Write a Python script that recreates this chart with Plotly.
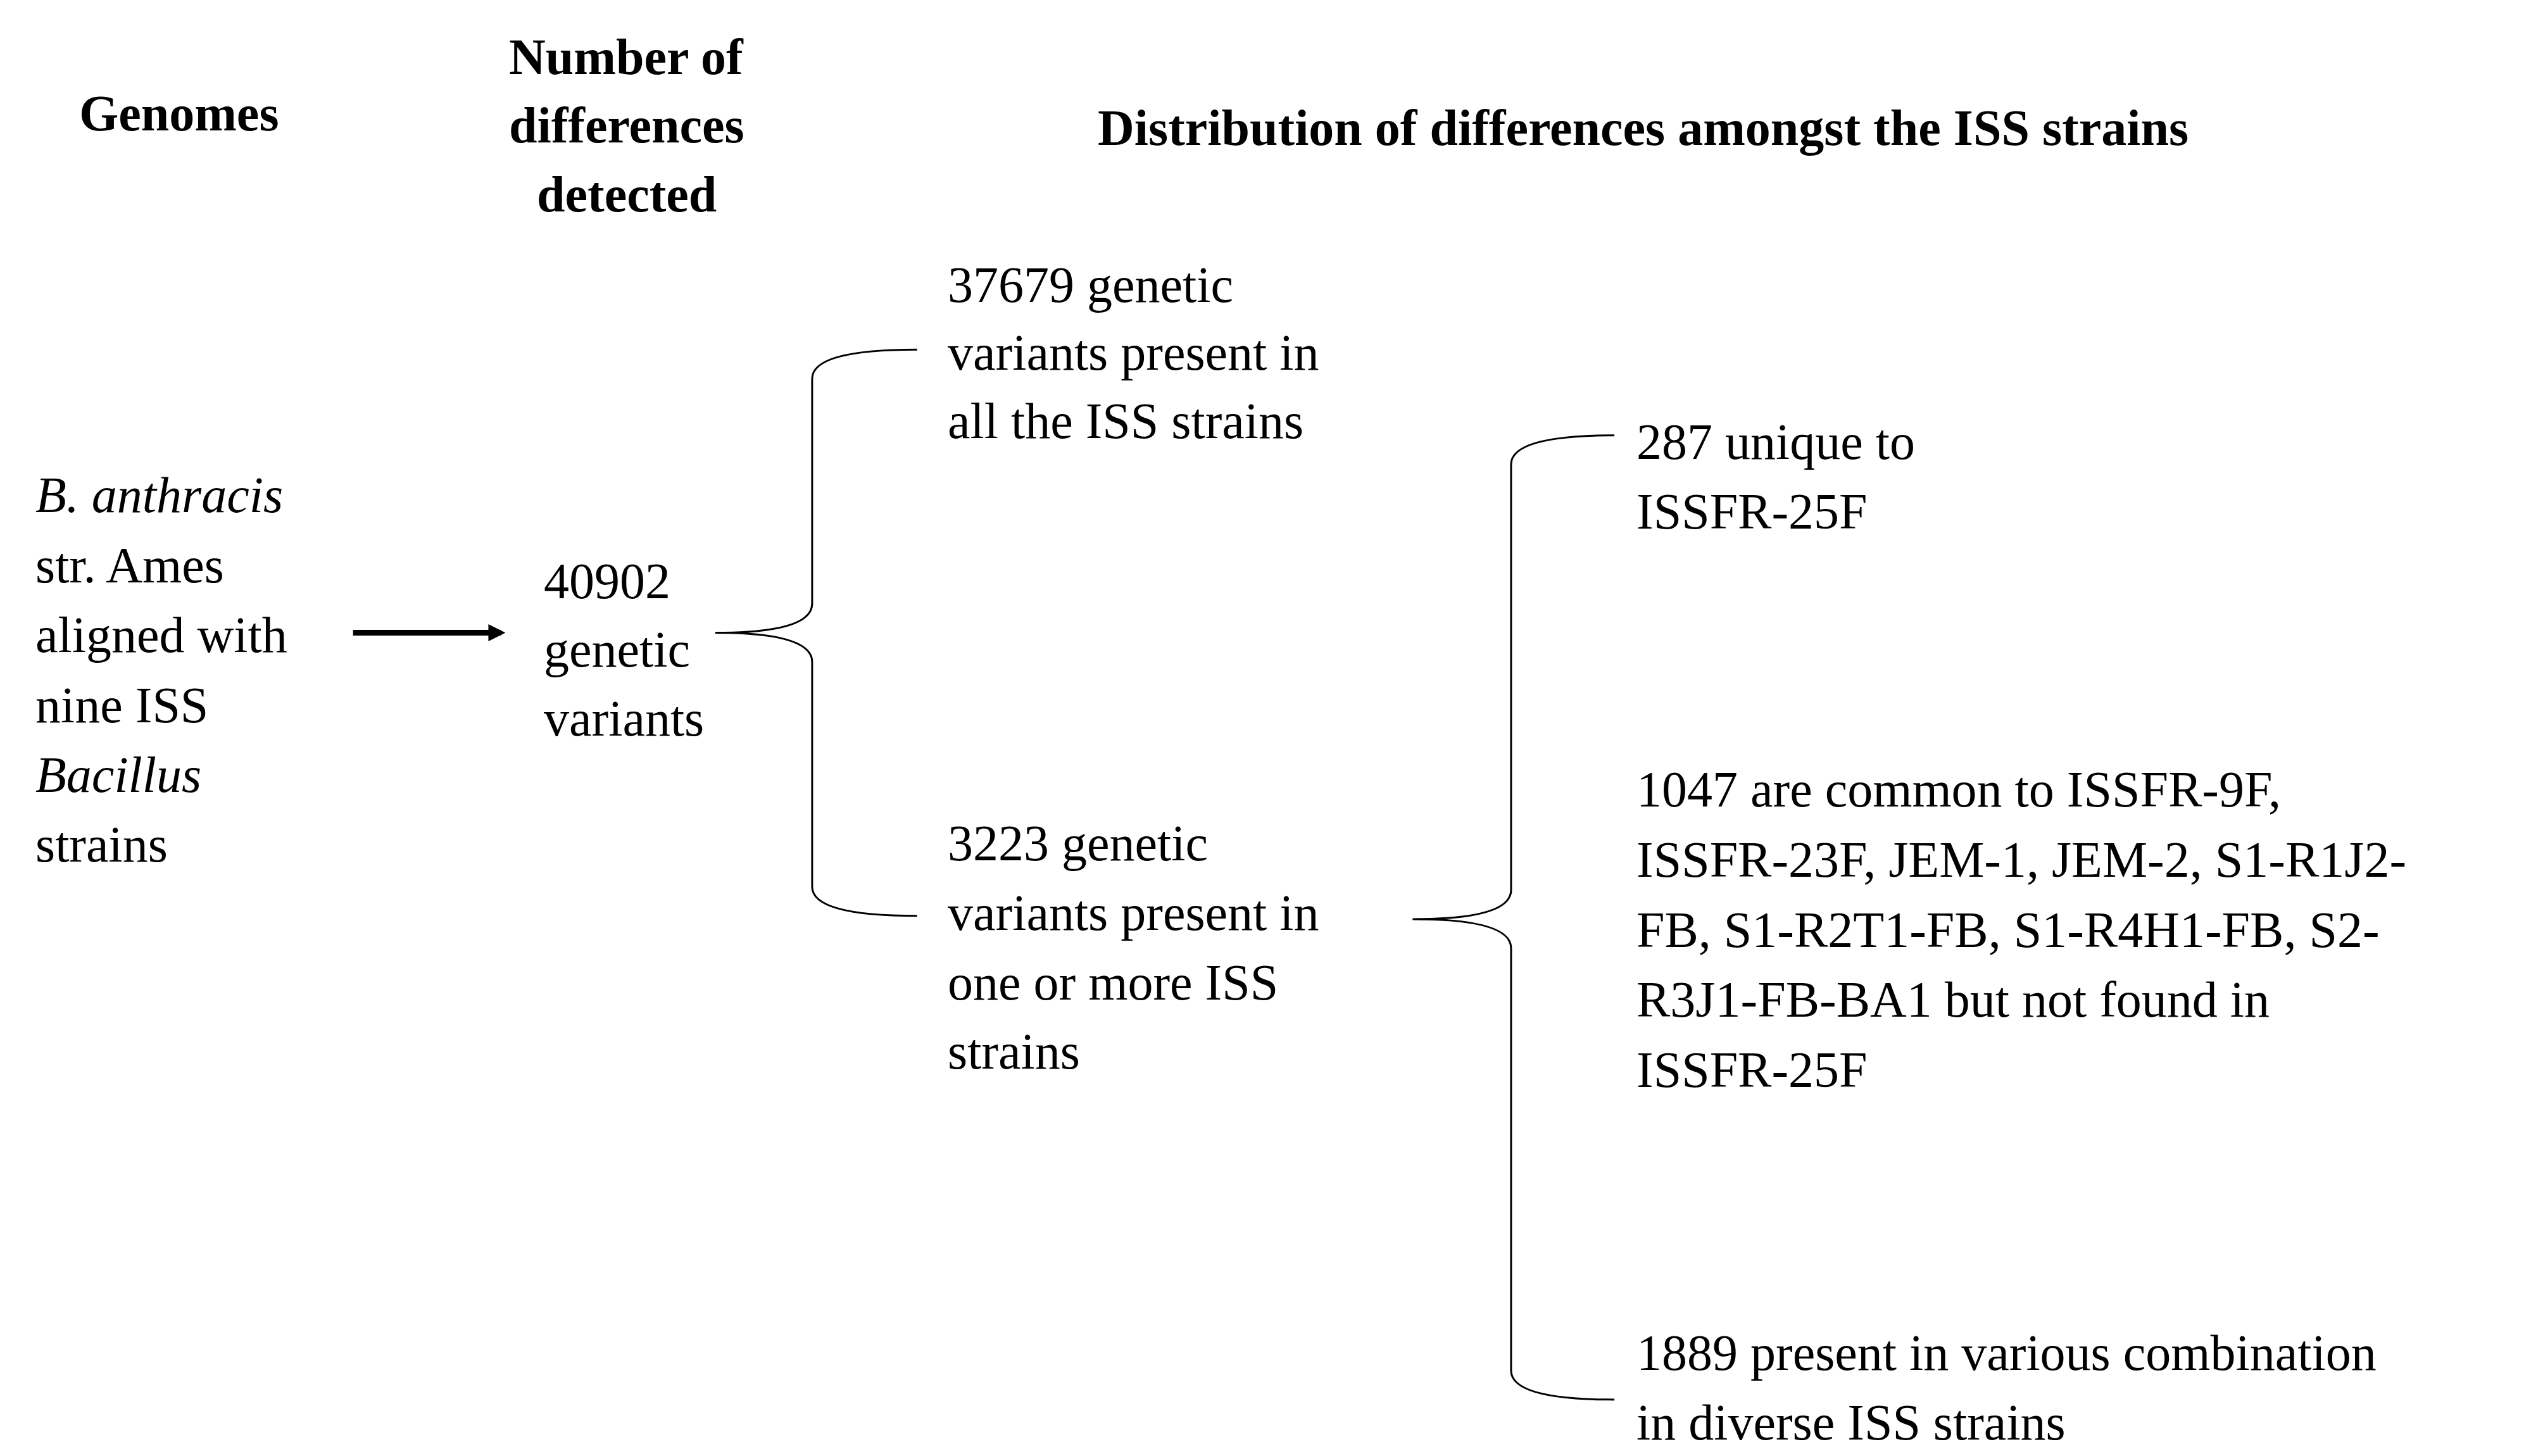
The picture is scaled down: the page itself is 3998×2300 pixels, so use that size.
import plotly.graph_objects as go

# ---- data (text content) ----
header_genomes = ["<b>Genomes</b>"]
header_number = ["<b>Number of</b>", "<b>differences</b>", "<b>detected</b>"]
header_dist = ["<b>Distribution of differences amongst the ISS strains</b>"]
genome_lines = ["<i>B. anthracis</i>", "str. Ames", "aligned with", "nine ISS", "<i>Bacillus</i>", "strains"]
total_variants = 40902
total_lines = [str(total_variants), "genetic", "variants"]
all_count = 37679
all_lines = [f"{all_count} genetic", "variants present in", "all the ISS strains"]
some_count = 3223
some_lines = [f"{some_count} genetic", "variants present in", "one or more ISS", "strains"]
unique_count = 287
unique_lines = [f"{unique_count} unique to", "ISSFR-25F"]
common_count = 1047
common_lines = [f"{common_count} are common to ISSFR-9F,", "ISSFR-23F, JEM-1, JEM-2, S1-R1J2-",
                "FB, S1-R2T1-FB, S1-R4H1-FB, S2-", "R3J1-FB-BA1 but not found in", "ISSFR-25F"]
combo_count = 1889
combo_lines = [f"{combo_count} present in various combination", "in diverse ISS strains"]

W, H = 1568, 900
FONT = "Liberation Serif"
FS = 80

fig = go.Figure()
ann = []

def block(lines, x, y0, dy, xanchor="left", size=FS):
    for i, t in enumerate(lines):
        ann.append(dict(x=x, y=y0 + i * dy, text=t, showarrow=False, xanchor=xanchor,
                        yanchor="middle", font=dict(family=FONT, size=size, color="black")))

block(header_genomes, 108, 67, 42, "center", 80)
block(header_number, 385, 32, 42.5, "center", 80)
block(header_dist, 1015, 76, 42, "center", 80)
block(genome_lines, 18, 303, 43.2, "left")
block(total_lines, 333, 356, 42.5, "left")
block(all_lines, 583, 173, 42, "left")
block(some_lines, 583, 518, 43, "left")
block(unique_lines, 1010, 270, 43, "left")
block(common_lines, 1010, 485, 43.25, "left")
block(combo_lines, 1010, 833, 43, "left")

# arrow
ann.append(dict(x=310, y=388, ax=215, ay=388, xref="x", yref="y", axref="x", ayref="y",
                showarrow=True, arrowhead=2, arrowsize=0.6, arrowwidth=9, arrowcolor="black", text=""))

def brace(xv, ytop, ybot, xtip, ymid, xend, r=12):
    return (f"M {xend} {ytop} Q {xv} {ytop} {xv} {ytop + r} "
            f"L {xv} {ymid - r} Q {xv} {ymid} {xtip} {ymid} "
            f"Q {xv} {ymid} {xv} {ymid + r} "
            f"L {xv} {ybot - r} Q {xv} {ybot} {xend} {ybot}")

shapes = [
    dict(type="path", path=brace(500, 213, 563, 440, 388, 565, 18), line=dict(color="black", width=3)),
    dict(type="path", path=brace(933, 266, 862, 872, 565, 997, 18), line=dict(color="black", width=3)),
]

fig.update_layout(
    width=3998, height=2300, paper_bgcolor="white", plot_bgcolor="white",
    margin=dict(l=0, r=0, t=0, b=0), showlegend=False,
    xaxis=dict(range=[0, W], visible=False, fixedrange=True),
    yaxis=dict(range=[H, 0], visible=False, fixedrange=True),
    annotations=ann, shapes=shapes,
)
fig.write_html("out.html")
